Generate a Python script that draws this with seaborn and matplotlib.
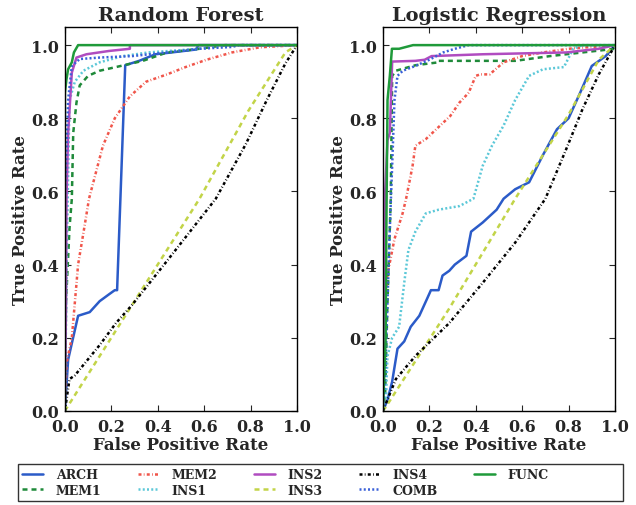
import matplotlib
matplotlib.use("Agg")
import matplotlib.pyplot as plt
from matplotlib.lines import Line2D
import seaborn as sns
import pandas as pd

# ROC curves (fpr, tpr)
labels = ["ARCH", "MEM1", "MEM2", "INS1", "INS2", "INS3", "INS4", "COMB", "FUNC"]
colors = ["#2b5bc8", "#1f8a3a", "#f0554a", "#5cc8d8", "#b04cc0",
          "#c2d448", "black", "#3a60d8", "#1f9a3a"]
solid = "-"
dashed = (0, (2.0, 1.6))
dashdot = (0, (1.2, 0.9, 0.3, 0.9))
dotted = (0, (0.8, 0.9))
styles = [solid, dashed, dashdot, dotted, solid, dashed, dashdot, dotted, solid]

rf_fpr = {
    "ARCH": [0, 0.014, 0.057, 0.107, 0.15, 0.193, 0.215, 0.225, 0.26, 0.32, 0.39, 0.46, 0.565, 0.575, 1],
    "MEM1": [0, 0.005, 0.02, 0.03, 0.036, 0.05, 0.064, 0.1, 0.15, 0.22, 0.336, 0.44, 0.58, 0.69, 1],
    "MEM2": [0, 0.007, 0.03, 0.057, 0.086, 0.104, 0.164, 0.215, 0.28, 0.35, 0.44, 0.52, 0.61, 0.72, 0.84, 1],
    "INS1": [0, 0.01, 0.02, 0.043, 0.08, 0.15, 0.25, 0.36, 0.58, 0.7, 1],
    "INS2": [0, 0.005, 0.007, 0.014, 0.03, 0.05, 0.093, 0.19, 0.28, 0.28, 1],
    "INS3": [0, 0.05, 0.32, 0.58, 0.79, 0.95, 1],
    "INS4": [0, 0.02, 0.043, 0.15, 0.22, 0.29, 0.44, 0.65, 0.78, 0.87, 0.95, 1],
    "COMB": [0, 0.0, 0.014, 0.03, 0.064, 0.15, 0.29, 0.44, 0.58, 0.72, 0.75, 1],
    "FUNC": [0, 0, 0.007, 0.014, 0.03, 0.039, 0.057, 1],
}
rf_tpr = {
    "ARCH": [0, 0.14, 0.26, 0.27, 0.30, 0.32, 0.33, 0.33, 0.945, 0.957, 0.975, 0.98, 0.988, 1.0, 1],
    "MEM1": [0, 0.3, 0.5, 0.58, 0.76, 0.843, 0.89, 0.916, 0.93, 0.94, 0.957, 0.98, 0.99, 1.0, 1],
    "MEM2": [0, 0.13, 0.2, 0.40, 0.51, 0.58, 0.725, 0.80, 0.86, 0.90, 0.92, 0.94, 0.96, 0.98, 0.994, 1],
    "INS1": [0, 0.5, 0.85, 0.90, 0.93, 0.953, 0.97, 0.98, 0.99, 1.0, 1],
    "INS2": [0, 0.3, 0.58, 0.76, 0.925, 0.966, 0.975, 0.984, 0.99, 1.0, 1],
    "INS3": [0, 0.05, 0.32, 0.58, 0.82, 0.98, 1],
    "INS4": [0, 0.087, 0.097, 0.18, 0.24, 0.29, 0.41, 0.58, 0.73, 0.85, 0.95, 1],
    "COMB": [0, 0.58, 0.85, 0.943, 0.962, 0.966, 0.97, 0.98, 0.99, 0.995, 1.0, 1],
    "FUNC": [0, 0.87, 0.907, 0.934, 0.953, 0.98, 1.0, 1],
}

lr_fpr = {
    "ARCH": [0, 0.02, 0.04, 0.063, 0.092, 0.12, 0.157, 0.19, 0.207, 0.24, 0.257, 0.286, 0.31, 0.36, 0.38,
             0.43, 0.49, 0.52, 0.57, 0.63, 0.69, 0.75, 0.80, 0.85, 0.90, 0.96, 1],
    "MEM1": [0, 0.01, 0.02, 0.034, 0.04, 0.056, 0.14, 0.24, 0.24, 0.57, 0.72, 0.93, 1, 1],
    "MEM2": [0, 0.005, 0.01, 0.02, 0.05, 0.085, 0.1, 0.128, 0.14, 0.185, 0.23, 0.29, 0.33, 0.37, 0.40,
             0.42, 0.46, 0.52, 0.6, 0.69, 0.8, 1],
    "INS1": [0, 0.013, 0.02, 0.04, 0.07, 0.092, 0.11, 0.14, 0.185, 0.24, 0.33, 0.39, 0.43, 0.47, 0.52,
             0.57, 0.63, 0.69, 0.78, 0.82, 0.86, 1],
    "INS2": [0, 0.005, 0.01, 0.02, 0.03, 0.04, 0.14, 0.18, 0.21, 0.43, 0.79, 0.93, 1],
    "INS3": [0, 0.012, 0.286, 0.57, 0.80, 0.93, 1],
    "INS4": [0, 0.056, 0.14, 0.286, 0.43, 0.57, 0.70, 0.79, 0.86, 0.93, 1],
    "COMB": [0, 0.01, 0.02, 0.03, 0.04, 0.05, 0.063, 0.086, 0.14, 0.2, 0.26, 0.31, 0.37, 1],
    "FUNC": [0, 0.005, 0.012, 0.015, 0.02, 0.03, 0.039, 0.07, 0.13, 1],
}
lr_tpr = {
    "ARCH": [0, 0.03, 0.08, 0.17, 0.19, 0.23, 0.26, 0.306, 0.33, 0.33, 0.37, 0.383, 0.40, 0.424, 0.49,
             0.515, 0.55, 0.58, 0.606, 0.625, 0.70, 0.77, 0.80, 0.87, 0.943, 0.97, 1],
    "MEM1": [0, 0.05, 0.3, 0.58, 0.916, 0.93, 0.945, 0.953, 0.957, 0.957, 0.97, 0.985, 0.99, 1],
    "MEM2": [0, 0.15, 0.3, 0.374, 0.47, 0.54, 0.58, 0.67, 0.725, 0.743, 0.77, 0.806, 0.843, 0.87, 0.916,
             0.92, 0.92, 0.953, 0.97, 0.98, 0.99, 1],
    "INS1": [0, 0.03, 0.15, 0.2, 0.23, 0.35, 0.44, 0.49, 0.54, 0.55, 0.56, 0.58, 0.67, 0.725, 0.78,
             0.85, 0.916, 0.934, 0.94, 0.99, 1.0, 1],
    "INS2": [0, 0.3, 0.6, 0.74, 0.76, 0.955, 0.957, 0.96, 0.97, 0.975, 0.98, 0.99, 1],
    "INS3": [0, 0.01, 0.28, 0.58, 0.81, 0.96, 1],
    "INS4": [0, 0.087, 0.15, 0.24, 0.35, 0.46, 0.58, 0.716, 0.825, 0.92, 1],
    "COMB": [0, 0.1, 0.3, 0.5, 0.67, 0.85, 0.916, 0.93, 0.943, 0.96, 0.98, 0.99, 1.0, 1],
    "FUNC": [0, 0.08, 0.2, 0.5, 0.85, 0.916, 0.99, 0.99, 1.0, 1],
}

sns.set_style("ticks")
plt.rcParams["font.family"] = ["DejaVu Serif"]
plt.rcParams["font.weight"] = "bold"

fig = plt.figure(figsize=(6.36, 5.06), dpi=100)
ax1 = fig.add_axes([0.102, 0.186, 0.365, 0.759])
ax2 = fig.add_axes([0.602, 0.186, 0.365, 0.759])


def draw(ax, fprs, tprs, title):
    for lab, col, ls in zip(labels, colors, styles):
        df = pd.DataFrame({"fpr": fprs[lab], "tpr": tprs[lab]})
        sns.lineplot(data=df, x="fpr", y="tpr", ax=ax, sort=False, estimator=None,
                     color=col, linestyle=ls, linewidth=1.8, label=lab)
    ax.set_xlim(0, 1)
    ax.set_ylim(0, 1.05)
    ticks = [0, 0.2, 0.4, 0.6, 0.8, 1.0]
    ticklabels = ["0.0", "0.2", "0.4", "0.6", "0.8", "1.0"]
    ax.set_xticks(ticks)
    ax.set_yticks(ticks)
    ax.set_xticklabels(ticklabels, fontsize=11.5, fontweight="bold")
    ax.set_yticklabels(ticklabels, fontsize=11.5, fontweight="bold")
    ax.tick_params(direction="in", top=True, right=True, length=4)
    ax.tick_params(axis="x", pad=5)
    ax.tick_params(axis="y", pad=4)
    ax.set_xlabel("False Positive Rate", fontsize=12, fontweight="bold", labelpad=1)
    ax.set_ylabel("True Positive Rate", fontsize=12, fontweight="bold", labelpad=2)
    ax.set_title(title, fontsize=14, fontweight="bold", pad=5)
    for s in ax.spines.values():
        s.set_color("black")
        s.set_linewidth(1)
    ax.get_legend().remove()


draw(ax1, rf_fpr, rf_tpr, "Random Forest")
draw(ax2, lr_fpr, lr_tpr, "Logistic Regression")

handles, labs = ax1.get_legend_handles_labels()
# empty sixth column keeps the entries packed to the left like the reference
handles.append(Line2D([], [], color="none"))
labs.append("")
leg = fig.legend(handles, labs, loc="lower left", ncol=6, mode="expand",
                 bbox_to_anchor=(0.028, 0.008, 0.952, 0.079), fancybox=False,
                 prop={"weight": "bold", "size": 9}, handlelength=1.7, handletextpad=1.0,
                 borderaxespad=0, labelspacing=0.2, borderpad=0.35)
leg.get_frame().set_edgecolor("black")

fig.savefig("out.png", dpi=100)
